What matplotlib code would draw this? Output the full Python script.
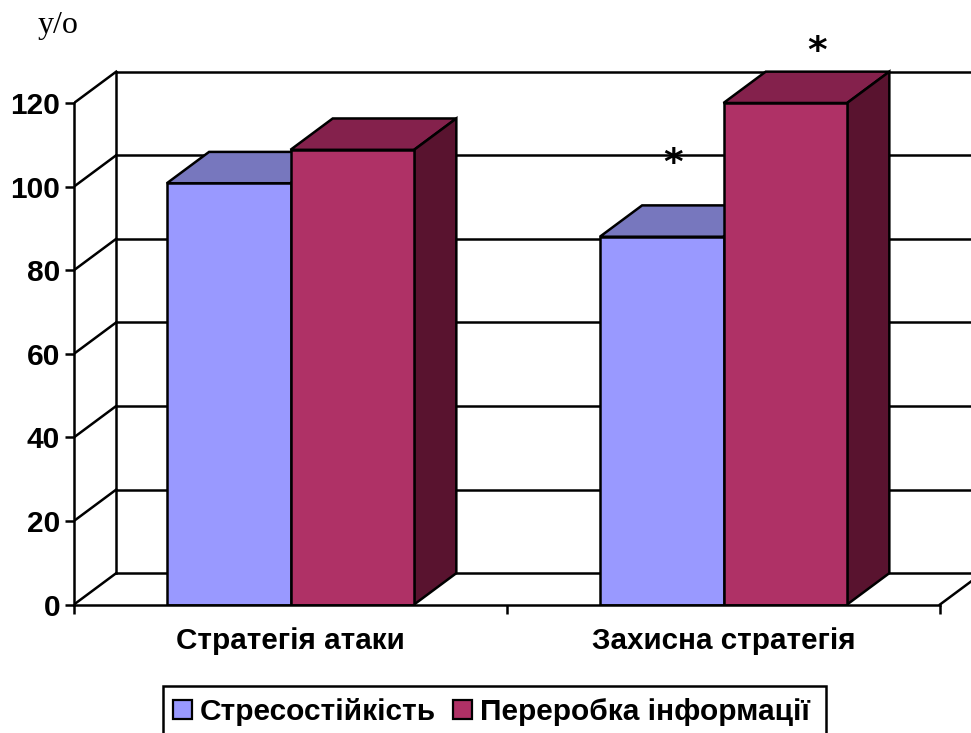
import matplotlib
matplotlib.use("Agg")
import matplotlib.pyplot as plt
from matplotlib.patches import Patch, Polygon, Rectangle

categories = ["Стратегія атаки", "Захисна стратегія"]
series_names = ["Стресостійкість", "Переробка інформації"]
stress = [100.8, 88]
processing = [108.8, 120]
y_ticks = [0, 20, 40, 60, 80, 100, 120]

front_colors = ["#9999FF", "#AF3166"]
top_colors = ["#7777BE", "#84214C"]
side_colors = ["#4C4C80", "#59132F"]

W, H = 971, 733
LW = 1.8
depth_x = 0.0975  # depth of the 3d box, category units
depth_y = 7.5     # same, value units
bar_width = 0.2855

plt.rcParams["font.family"] = ["Liberation Sans", "DejaVu Sans"]
fig = plt.figure(figsize=(W / 100, H / 100), dpi=100)
ax = fig.add_axes([74 / W, (H - 604.5) / H, (W - 74) / W, 604.5 / H])
ax.set_xlim(0, (W - 74) / 433)
ax.set_ylim(0, 604.5 / 501.5 * 120)
ax.patch.set_visible(False)

# back wall, side wall and floor
top_tick = y_ticks[-1]
for t in y_ticks:
    ax.plot([depth_x, ax.get_xlim()[1]], [t + depth_y] * 2, color="k", lw=LW, zorder=1)
    ax.plot([0, depth_x], [t, t + depth_y], color="k", lw=LW, zorder=1)
ax.plot([depth_x, depth_x], [depth_y, top_tick + depth_y], color="k", lw=LW, zorder=1)
ax.plot([2, 2 + depth_x], [0, depth_y], color="k", lw=LW, zorder=1, clip_on=True)


def draw_box(x, value, i, z):
    # one 3d column: front from ax.bar, top and side as polygons
    x2 = x + bar_width
    ax.add_patch(Polygon([(x, value), (x2, value), (x2 + depth_x, value + depth_y),
                          (x + depth_x, value + depth_y)], closed=True,
                         fc=top_colors[i], ec="k", lw=LW, zorder=z, joinstyle="miter"))
    ax.add_patch(Polygon([(x2, 0), (x2 + depth_x, depth_y), (x2 + depth_x, value + depth_y),
                          (x2, value)], closed=True,
                         fc=side_colors[i], ec="k", lw=LW, zorder=z, joinstyle="miter"))
    ax.bar(x, value, width=bar_width, align="edge", color=front_colors[i],
           edgecolor="k", lw=LW, zorder=z + 0.5)


for c in range(len(categories)):
    draw_box(c + 0.5 - bar_width, stress[c], 0, 2 + c * 2)
    draw_box(c + 0.5, processing[c], 1, 3 + c * 2)

for name in ["top", "right"]:
    ax.spines[name].set_visible(False)
ax.spines["left"].set_bounds(0, top_tick)
ax.spines["bottom"].set_bounds(0, 2)
for name in ["left", "bottom"]:
    ax.spines[name].set_linewidth(LW)
    ax.spines[name].set_zorder(8)

ax.set_yticks(y_ticks)
ax.set_xticks([0, 1, 2])
ax.set_xticklabels([])
ax.set_xticks([0.5, 1.5], labels=categories, minor=True)
ax.tick_params(axis="both", which="major", length=6.5, width=LW)
ax.tick_params(axis="y", labelsize=21.5, pad=3.5)
ax.tick_params(axis="x", which="minor", length=0, labelsize=21.3, pad=16)
for lab in ax.get_yticklabels() + ax.get_xticklabels(minor=True):
    lab.set_fontweight("bold")

# significance marks and unit label
fig.text(58 / W, 1 - 33 / H, "у/о", family="Liberation Serif", fontsize=23, ha="center", va="baseline")
fig.text(673 / W, 1 - 164 / H, "*", family="DejaVu Sans", fontweight="bold", fontsize=27, ha="center", va="center", zorder=9)
fig.text(817 / W, 1 - 52 / H, "*", family="DejaVu Sans", fontweight="bold", fontsize=27, ha="center", va="center", zorder=9)

# legend frame runs off the bottom edge of the figure
fig.add_artist(Rectangle((163 / W, 1 - 760 / H), (826 - 163) / W, (760 - 686) / H,
                         transform=fig.transFigure, fc="white", ec="k", lw=LW))
handles = [Patch(fc=front_colors[i], ec="k", lw=1.6) for i in range(2)]
leg = fig.legend(handles, series_names, ncol=2, loc="upper left",
                 bbox_to_anchor=(173 / W, 1 - 698 / H), bbox_transform=fig.transFigure,
                 borderaxespad=0, prop={"family": "Liberation Sans", "weight": "bold", "size": 21.5},
                 frameon=False, handlelength=0.63, handleheight=0.63, handletextpad=0.28,
                 columnspacing=0.55, borderpad=0)

fig.savefig("out.png", dpi=100)
